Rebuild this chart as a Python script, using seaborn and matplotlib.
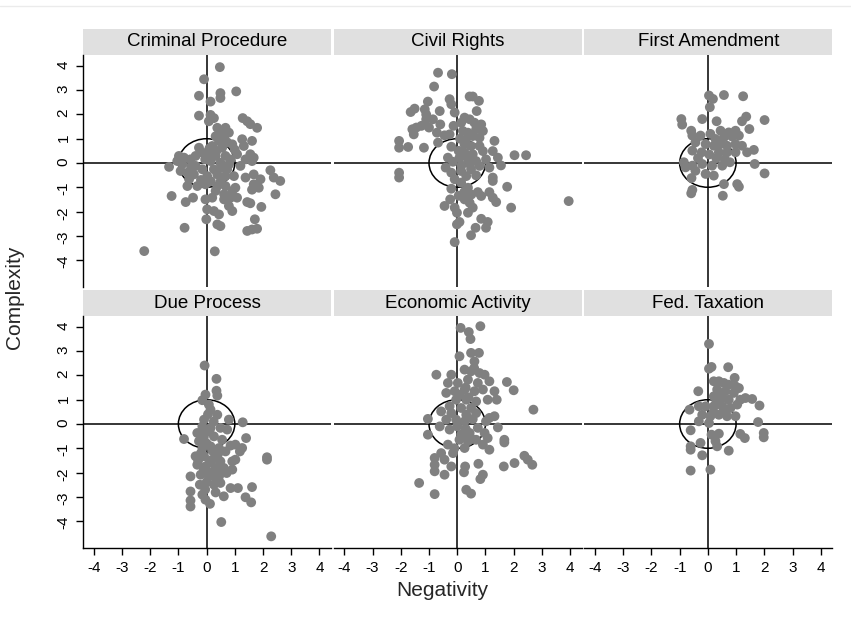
import matplotlib
matplotlib.use("Agg")
import matplotlib.pyplot as plt
from matplotlib.patches import Circle, Rectangle
from matplotlib.lines import Line2D
import pandas as pd
import seaborn as sns

# panel names (facet order)
panels = ['Criminal Procedure', 'Civil Rights', 'First Amendment',
          'Due Process', 'Economic Activity', 'Fed. Taxation']

# Criminal Procedure
crim_x = [0.47, -0.09, -0.27, 0.49, 0.49, 1.05, 0.14, -0.27, 0.14, 0.26, 0.08, 1.28, 1.44, 1.55, 1.79,
          0.38, 0.67, 0.49, 0.79, 0.32, 0.62, 0.44, 0.73, 1.26, 1.61, -0.27, 0.2, 0.55, 0.91, 1.32,
          1.55, 1.67, 1.61, 1.38, 1.08, -0.98, -0.8, -1.04, -0.86, -1.33, -0.57, -0.39, -0.15, 0.08, 0.32,
          0.67, 0.85, 0.14, 0.49, -0.39, -0.15, 0.26, 0.73, 1.2, -0.92, -0.68, -0.45, -0.62, 0.02, 0.38,
          0.67, 0.97, 1.38, 1.67, 1.91, 2.26, 2.38, 2.61, -0.68, -0.33, -0.04, 0.38, 0.67, 1.02, 1.67,
          1.85, 0.32, 0.62, 0.91, 1.61, -1.24, -0.74, -0.48, -0.04, 0.2, 0.62, 0.85, 1.08, 1.44, 1.55,
          2.44, 1.94, 0.02, 0.26, 0.44, 0.79, 0.91, -0.01, 0.38, 0.49, 1.71, 1.44, 1.61, 1.79, -0.78,
          -2.21, 0.29, 0.1, 0.35, -0.05, 0.55, -0.2, 0.15, 0.5, -0.55, 0.8, 1.0]
crim_y = [3.95, 3.45, 2.77, 2.88, 2.68, 2.95, 2.53, 1.95, 1.98, 1.85, 1.72, 1.85, 1.72, 1.6, 1.45,
          1.45, 1.45, 1.3, 1.25, 1.1, 1.05, 0.9, 0.85, 0.98, 0.91, 0.63, 0.7, 0.63, 0.77, 0.7,
          0.36, 0.22, 0.08, 0.15, 0.36, 0.29, 0.22, 0.08, -0.05, -0.16, 0.15, 0.29, 0.43, 0.36, 0.29,
          0.29, 0.15, 0.08, 0.01, -0.12, -0.26, -0.26, -0.26, -0.12, -0.33, -0.4, -0.47, -0.67, -0.54, -0.47,
          -0.54, -0.54, -0.6, -0.47, -0.67, -0.3, -0.6, -0.74, -0.95, -0.95, -0.88, -0.95, -0.95, -1.02, -0.88,
          -1.02, -1.15, -1.29, -1.15, -1.1, -1.36, -1.61, -1.43, -1.5, -1.43, -1.5, -1.43, -1.43, -1.61, -1.66,
          -1.29, -1.81, -1.91, -1.98, -2.12, -1.77, -1.98, -2.32, -2.53, -2.6, -2.32, -2.8, -2.74, -2.71, -2.67,
          -3.63, -3.64, 0.6, 0.5, 0.15, -0.2, -0.7, -0.75, -0.75, -0.15, -0.05, 0.55]

# Civil Rights
civil_x = [-0.68, -0.19, -0.82, 0.44, 0.55, 0.77, -0.27, -0.21, -1.04, -1.51, -1.65, -1.15, -1.1, -0.62,
           -0.09, 0.69, -1.1, -0.86, -0.6, 0.26, 0.44, 0.14, 0.61, 0.85, -1.59, -1.45, -1.27, -1.54, -1.0,
           -0.72, -0.45, -0.27, -0.13, 0.2, 0.38, 0.67, 0.91, 0.55, 0.79, -2.06, -2.06, -1.74, -1.18, -0.68,
           -0.21, 1.32, 1.26, 0.26, 0.49, 0.79, 0.26, 0.55, 0.91, 1.44, 1.55, 2.03, 2.44, -0.33, 0.08,
           0.38, 0.67, 1.02, 0.79, 1.14, -2.06, -2.06, -0.41, -0.21, 0.14, 0.49, 0.32, 0.67, 1.26, 1.26,
           -0.09, 0.14, -0.21, 0.38, 1.77, 0.73, 1.14, 0.85, 1.26, 1.38, -0.25, -0.45, -0.09, 0.26, 0.44,
           0.55, 0.38, 1.91, 3.95, -0.01, 0.08, -0.01, 0.85, 1.08, 1.02, 0.65, 0.49, -0.09,
           0.1, 0.3, 0.05, 0.15, 0.45, -0.15, 0.25, 0.5, 0.05]
civil_y = [3.72, 3.66, 3.15, 2.74, 2.74, 2.56, 2.63, 2.42, 2.53, 2.24, 2.1, 2.21, 2.0, 2.14,
           2.08, 2.14, 1.8, 1.8, 1.59, 1.87, 1.8, 1.66, 1.66, 1.59, 1.39, 1.46, 1.53, 1.18, 1.46,
           1.25, 1.14, 1.18, 1.53, 1.32, 1.25, 1.39, 1.32, 1.11, 1.04, 0.91, 0.63, 0.66, 0.63, 0.84,
           0.67, 0.91, 0.49, 0.77, 0.7, 0.7, 0.43, 0.36, 0.49, 0.22, -0.1, 0.32, 0.32, 0.22, 0.22,
           0.15, 0.08, 0.15, -0.12, -0.19, -0.4, -0.6, -0.19, -0.4, -0.33, -0.26, -0.54, -0.51, -0.6, -0.74,
           -0.67, -0.81, -1.06, -1.02, -0.98, -1.2, -1.2, -1.36, -1.43, -1.61, -1.5, -1.77, -1.84, -1.5, -1.64,
           -1.84, -2.05, -1.84, -1.57, -2.05, -2.43, -2.53, -2.3, -2.43, -2.67, -2.67, -2.98, -3.26,
           1.0, 0.95, 0.5, -0.1, -0.05, 0.05, -1.2, -1.3, -1.35]

# First Amendment
first_x = [0.04, 0.18, 0.57, 1.25, 0.07, -0.94, -0.91, -0.2, 0.31, 1.21, 1.36, 2.01, 1.47, -0.59,
           -0.55, -0.26, 0.09, 0.45, 0.74, 0.98, 0.27, 0.57, 0.86, 1.1, -0.44, -0.08, 0.21, 0.45, 0.68,
           0.98, 1.21, 1.63, 1.39, -0.55, -0.22, 0.39, 0.68, 0.98, -0.85, -0.79, -0.55, -0.2, 0.15, 0.51,
           0.78, 1.66, 2.01, -0.44, -0.08, 0.21, -0.58, 0.57, 1.04, 1.1, -0.55, -0.59, 0.53,
           0.3, 0.6, -0.35, 0.05]
first_y = [2.78, 2.64, 2.8, 2.75, 2.3, 1.81, 1.58, 1.81, 1.72, 1.72, 1.91, 1.77, 1.4, 1.33,
           1.13, 1.13, 1.2, 1.33, 1.26, 1.33, 0.99, 1.06, 1.09, 1.13, 0.85, 0.78, 0.71, 0.78, 0.71,
           0.78, 0.71, 0.54, 0.44, 0.51, 0.44, 0.44, 0.44, 0.44, 0.03, -0.18, -0.11, -0.04, -0.11, -0.11,
           0.03, -0.04, -0.43, -0.32, -0.45, -0.52, -0.62, -0.87, -0.87, -0.98, -1.11, -1.25, -1.35,
           0.2, 0.15, 0.2, 0.35]

# Due Process
due_x = [-0.07, 0.35, 0.35, 0.38, -0.04, -0.15, 0.08, 0.14, 0.38, 0.79, 1.28, -0.09, -0.15, 0.14,
         0.49, 0.73, -0.8, -0.33, -0.09, 0.26, 0.55, 0.85, 1.02, 1.4, 1.26, 1.18, -0.27, -0.15, 0.14,
         0.44, 0.67, 2.14, 2.14, -0.39, -0.09, 0.2, 0.49, 0.91, 1.02, 0.91, -0.33, -0.04, 0.32, 0.61,
         -0.57, -0.21, 0.08, 0.44, 0.71, -0.24, 0.26, 0.49, 0.85, 1.11, 1.61, -0.57, -0.15, 0.32, 0.61,
         1.38, 1.58, -0.57, -0.57, -0.04, 0.12, 0.52, 2.29,
         0.0, 0.2, -0.2, 0.1, -0.1, 0.3, 0.0, -0.3, 0.4, -0.1, 0.1, 0.05, 0.25, -0.05, 0.15, 0.45]
due_y = [2.41, 1.86, 1.37, 1.17, 1.21, 0.98, 0.8, 0.59, 0.38, 0.18, 0.07, 0.18, -0.1, -0.16,
         -0.16, -0.23, -0.62, -0.37, -0.44, -0.51, -0.65, -0.89, -0.85, -0.58, -0.99, -1.13, -0.71, -0.99, -0.92,
         -0.99, -1.13, -1.37, -1.47, -1.33, -1.33, -1.47, -1.54, -1.54, -1.47, -1.88, -1.68, -1.75, -1.81, -1.81,
         -2.16, -2.09, -2.16, -2.16, -2.02, -2.5, -2.5, -2.43, -2.64, -2.64, -2.6, -2.78, -2.91, -2.82, -2.98,
         -3.02, -3.23, -3.15, -3.4, -3.12, -3.29, -4.04, -4.63,
         -0.8, -1.1, -1.2, -1.6, -1.9, -2.2, -2.4, -1.5, -1.25, -0.55, -0.3, 0.4, 0.1, -2.7, -2.0, -1.9]

# Economic Activity
econ_x = [0.12, 0.41, 0.82, 0.47, 0.49, 0.77, 0.08, 0.61, -0.74, -0.21, 0.26, 0.49, 0.79, 0.97,
          -0.33, 0.02, 0.38, 0.73, 1.14, 1.76, 2.0, 1.32, -0.39, -0.09, 0.26, 0.61, 0.91, -0.04, 0.32,
          0.67, 1.08, 1.4, -0.27, 0.14, 0.49, -0.57, -0.21, 0.32, 0.67, 2.7, -1.04, -0.39, -0.04, 0.26,
          1.14, 1.32, 1.02, 1.44, -1.04, -0.62, -0.27, 0.14, 0.44, 0.73, 0.97, 0.08, 0.38, 0.67, 1.08,
          1.67, 1.67, -0.33, 0.26, 0.91, 1.14, -0.57, -0.15, -0.8, -0.45, -0.8, -0.21, -0.8, -0.45, 0.28,
          0.75, 0.24, 0.91, 0.82, 1.65, 2.03, 2.38, 2.5, 2.66, -1.35, -0.8, 0.32, 0.49,
          0.4, 0.1, 0.55, 0.3, 0.0, 0.5, 0.2, 0.6, 0.3, -0.1]
econ_y = [3.96, 3.79, 4.03, 3.5, 2.93, 2.93, 2.79, 2.58, 2.03, 2.03, 2.24, 2.17, 2.1, 2.03,
          1.69, 1.69, 1.83, 1.69, 1.76, 1.73, 1.39, 1.35, 1.28, 1.35, 1.42, 1.35, 1.42, 1.0, 1.0,
          0.93, 1.0, 1.0, 0.73, 0.66, 0.66, 0.52, 0.45, 0.38, 0.45, 0.59, 0.21, 0.18, 0.18, 0.11,
          0.25, 0.32, 0.11, -0.14, -0.44, -0.1, -0.23, -0.44, -0.37, -0.16, -0.37, -0.65, -0.71, -0.65, -0.58,
          -0.65, -0.76, -0.85, -0.99, -0.85, -1.06, -1.2, -1.2, -1.4, -1.47, -1.68, -1.75, -1.95, -2.09, -1.75,
          -1.64, -1.99, -2.09, -2.27, -1.75, -1.61, -1.31, -1.47, -1.68, -2.43, -2.89, -2.71, -2.87,
          1.1, 1.2, 0.2, -0.2, -0.1, -0.6, -0.55, 2.3, 1.5, -1.0]

# Fed. Taxation
tax_x = [0.04, 0.04, 0.13, 0.72, 0.95, 0.21, 0.39, 0.57, 0.74, 0.98, 1.1, -0.34, 0.33, 0.62,
         0.92, 1.57, 1.83, 1.15, 1.33, 0.21, 0.51, 0.74, -0.65, -0.32, -0.08, 0.21, 0.51, 0.8,
         1.04, -0.2, 0.09, 0.39, 0.68, 0.98, 1.78, -0.32, 0.04, -0.61, 0.39, 0.13, 1.15, 1.31,
         1.98, 1.98, -0.26, -0.61, -0.61, 0.27, 0.33, 0.74, -0.2, 0.09, -0.61,
         0.45, 0.3, 0.6, 0.2]
tax_y = [3.3, 2.28, 2.35, 2.34, 1.9, 1.76, 1.76, 1.69, 1.62, 1.55, 1.48, 1.35, 1.42, 1.35,
         1.28, 1.03, 0.76, 1.0, 1.07, 1.14, 1.07, 1.0, 0.59, 0.73, 0.73, 0.73, 0.73, 0.66,
         0.8, 0.38, 0.32, 0.38, 0.32, 0.32, 0.08, 0.11, 0.04, -0.26, -0.4, -0.44, -0.41, -0.58,
         -0.37, -0.55, -0.78, -0.92, -1.06, -0.71, -0.92, -1.1, -1.29, -1.88, -1.92,
         1.2, 0.9, 0.55, 0.5]

all_x = [crim_x, civil_x, first_x, due_x, econ_x, tax_x]
all_y = [crim_y, civil_y, first_y, due_y, econ_y, tax_y]

rows = []
for name, xs, ys in zip(panels, all_x, all_y):
    for x, y in zip(xs, ys):
        rows.append({'panel': name, 'neg': x, 'comp': y})
df = pd.DataFrame(rows)

sns.set_style("white")
plt.rcParams['font.family'] = ['Liberation Sans', 'DejaVu Sans']
plt.rcParams['axes.unicode_minus'] = False

W, H = 851, 619
g = sns.FacetGrid(df, col='panel', col_wrap=3, col_order=panels,
                  height=2.3, aspect=1.07, despine=False, sharex=True, sharey=True)
g.map_dataframe(sns.scatterplot, x='neg', y='comp', color='#808080',
                s=50, edgecolor='none', linewidth=0, zorder=3)
g.set_titles("")
g.set_axis_labels("", "")

fig = g.figure
fig.set_size_inches(W / 100, H / 100)
fig.subplots_adjust(left=83 / W, right=832.3 / W, top=1 - 55 / H, bottom=1 - 548 / H,
                    wspace=0.0105, hspace=0.125)

ticks = list(range(-4, 5))
strip_h = 26 / 232
for i, (ax, name) in enumerate(zip(g.axes.flat, panels)):
    row, col = divmod(i, 3)
    ax.set_xlim(-4.38, 4.41)
    ax.set_ylim(-5.11, 4.45)
    ax.set_xticks(ticks)
    ax.set_yticks(ticks)
    ax.axhline(0, color='black', lw=1.1, zorder=1)
    ax.axvline(0, color='black', lw=1.1, zorder=1)
    ax.add_patch(Circle((0, 0), 1, fill=False, ec='black', lw=1.1, zorder=2))
    for s in ax.spines.values():
        s.set_visible(False)
    ax.tick_params(direction='out', length=5, width=1, color='black',
                   labelsize=11, pad=4, labelcolor='black')
    if col == 0:
        ax.spines['left'].set_visible(True)
        ax.spines['left'].set_color('black')
        ax.spines['left'].set_linewidth(1)
        ax.set_yticks(ticks)
        ax.set_yticklabels([str(t) for t in ticks])
        ax.tick_params(axis='y', left=True, labelleft=True, labelrotation=90)
    else:
        ax.tick_params(axis='y', left=False, labelleft=False)
    if row == 1:
        ax.spines['bottom'].set_visible(True)
        ax.spines['bottom'].set_color('black')
        ax.spines['bottom'].set_linewidth(1)
        ax.set_xticklabels([str(t) for t in ticks])
        ax.tick_params(axis='x', bottom=True, labelbottom=True)
    else:
        ax.tick_params(axis='x', bottom=False, labelbottom=False)
    ax.add_patch(Rectangle((0, 1), 1, strip_h, transform=ax.transAxes,
                           facecolor='#e0e0e0', edgecolor='none', clip_on=False))
    ax.text(0.5, 1 + strip_h / 2, name, transform=ax.transAxes, ha='center',
            va='center', fontsize=13.5, color='black')

fig.text(442 / W, 1 - 591 / H, 'Negativity', ha='center', va='center', fontsize=15)
fig.text(15 / W, 1 - 297 / H, 'Complexity', ha='center', va='center', fontsize=15, rotation=90)
fig.add_artist(Line2D([0, 1], [1 - 5.5 / H] * 2, transform=fig.transFigure,
                      color='#ebebeb', lw=1))

fig.savefig('out.png', dpi=100)
